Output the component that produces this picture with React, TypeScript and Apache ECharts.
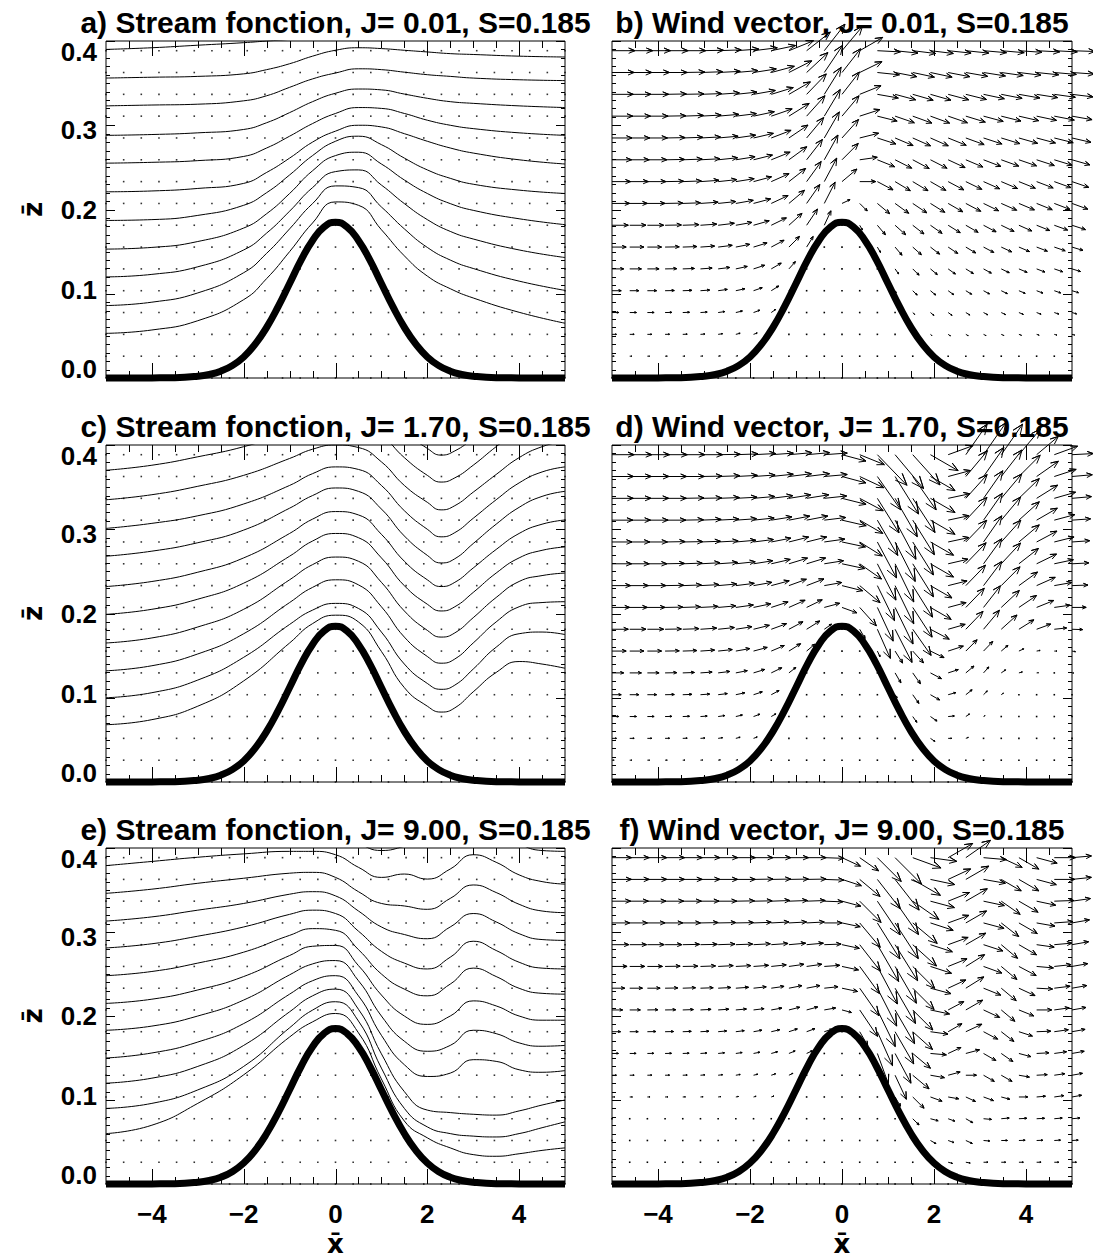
import React, { useEffect, useRef } from 'react';
import * as echarts from 'echarts';

const FONT = '"Liberation Sans", Arial, Helvetica, sans-serif';

// model grid (x columns, z rows)
const gridX = [-5, -4.615, -4.231, -3.846, -3.462, -3.077, -2.692, -2.308, -1.923, -1.538, -1.154, -0.769, -0.385, 0, 0.385, 0.769, 1.154, 1.538, 1.923, 2.308, 2.692, 3.077, 3.462, 3.846, 4.231, 4.615, 5];
const gridZ = [0, 0.0259, 0.0518, 0.0777, 0.1036, 0.1295, 0.1554, 0.1813, 0.2072, 0.2331, 0.259, 0.2849, 0.3108, 0.3367, 0.3626, 0.3885];

// terrain
const hillX = [-5, -4.5, -4, -3.5, -3, -2.75, -2.5, -2.25, -2, -1.75, -1.5, -1.25, -1, -0.75, -0.5, -0.25, 0, 0.25, 0.5, 0.75, 1, 1.25, 1.5, 1.75, 2, 2.25, 2.5, 2.75, 3, 3.5, 4, 4.5, 5];
const hillZ = [0, 0, 0.0001, 0.0004, 0.0021, 0.0042, 0.0081, 0.0147, 0.025, 0.0401, 0.0601, 0.0847, 0.1122, 0.1399, 0.1633, 0.1793, 0.185, 0.1793, 0.1633, 0.1399, 0.1122, 0.0847, 0.0601, 0.0401, 0.025, 0.0147, 0.0081, 0.0042, 0.0021, 0.0004, 0.0001, 0, 0];

// streamlines, panel a (J=0.01)
const streamAX = [-5, -4, -3, -2, -1.5, -1, -0.5, 0, 0.5, 1, 1.5, 2, 2.5, 3, 4, 5];
const streamA = [
  [0.053, 0.057, 0.068, 0.093, 0.118, 0.150, 0.184, 0.209, 0.205, 0.176, 0.145, 0.121, 0.106, 0.095, 0.078, 0.065],
  [0.086, 0.090, 0.101, 0.125, 0.148, 0.177, 0.207, 0.228, 0.226, 0.203, 0.177, 0.155, 0.140, 0.130, 0.115, 0.104],
  [0.120, 0.123, 0.132, 0.152, 0.172, 0.198, 0.226, 0.245, 0.247, 0.229, 0.207, 0.188, 0.174, 0.165, 0.152, 0.143],
  [0.153, 0.155, 0.162, 0.178, 0.195, 0.219, 0.246, 0.264, 0.268, 0.254, 0.235, 0.219, 0.207, 0.199, 0.189, 0.182],
  [0.187, 0.188, 0.193, 0.205, 0.220, 0.241, 0.264, 0.281, 0.287, 0.277, 0.261, 0.247, 0.237, 0.230, 0.223, 0.219],
  [0.221, 0.222, 0.225, 0.231, 0.244, 0.261, 0.280, 0.293, 0.300, 0.298, 0.290, 0.281, 0.273, 0.267, 0.259, 0.254],
  [0.255, 0.256, 0.258, 0.263, 0.273, 0.287, 0.302, 0.314, 0.321, 0.320, 0.314, 0.306, 0.300, 0.296, 0.291, 0.288],
  [0.288, 0.289, 0.291, 0.295, 0.303, 0.315, 0.328, 0.338, 0.343, 0.342, 0.337, 0.332, 0.328, 0.326, 0.323, 0.321],
  [0.323, 0.324, 0.325, 0.329, 0.335, 0.345, 0.355, 0.362, 0.367, 0.366, 0.363, 0.360, 0.358, 0.356, 0.354, 0.353],
  [0.356, 0.357, 0.358, 0.361, 0.366, 0.373, 0.382, 0.389, 0.392, 0.391, 0.389, 0.387, 0.385, 0.384, 0.382, 0.381],
  [0.390, 0.392, 0.395, 0.398, 0.400, 0.402, 0.406, 0.410, 0.413, 0.414, 0.414, 0.413, 0.412, 0.411, 0.410, 0.409],
];

// streamlines, panel c (J=1.70)
const streamCX = [-5, -4, -3, -2, -1, -0.5, 0, 0.5, 1, 1.5, 2, 2.3, 2.6, 3, 3.5, 4, 4.5, 5];
const streamC = [
  [0.405, 0.410, 0.418, 0.430, 0.448, 0.456, 0.460, 0.458, 0.443, 0.416, 0.396, 0.388, 0.393, 0.408, 0.430, 0.450, 0.460, 0.465],
  [0.370, 0.376, 0.386, 0.398, 0.415, 0.425, 0.430, 0.428, 0.412, 0.385, 0.364, 0.356, 0.361, 0.376, 0.398, 0.418, 0.430, 0.435],
  [0.335, 0.341, 0.351, 0.364, 0.384, 0.395, 0.400, 0.397, 0.380, 0.352, 0.332, 0.323, 0.328, 0.344, 0.365, 0.385, 0.398, 0.405],
  [0.301, 0.307, 0.316, 0.330, 0.352, 0.366, 0.374, 0.371, 0.352, 0.322, 0.300, 0.291, 0.296, 0.313, 0.335, 0.355, 0.368, 0.374],
  [0.268, 0.274, 0.284, 0.299, 0.325, 0.340, 0.349, 0.345, 0.324, 0.292, 0.269, 0.260, 0.265, 0.283, 0.306, 0.326, 0.339, 0.345],
  [0.232, 0.238, 0.249, 0.266, 0.295, 0.312, 0.321, 0.317, 0.294, 0.262, 0.240, 0.232, 0.237, 0.254, 0.276, 0.295, 0.306, 0.311],
  [0.199, 0.205, 0.217, 0.236, 0.268, 0.286, 0.295, 0.290, 0.266, 0.233, 0.211, 0.203, 0.208, 0.225, 0.248, 0.266, 0.275, 0.279],
  [0.165, 0.171, 0.184, 0.205, 0.240, 0.258, 0.267, 0.262, 0.237, 0.203, 0.180, 0.172, 0.177, 0.195, 0.219, 0.238, 0.245, 0.248],
  [0.132, 0.138, 0.152, 0.176, 0.213, 0.231, 0.240, 0.234, 0.208, 0.172, 0.149, 0.141, 0.146, 0.165, 0.190, 0.208, 0.213, 0.214],
  [0.100, 0.106, 0.121, 0.148, 0.187, 0.204, 0.212, 0.206, 0.178, 0.140, 0.117, 0.110, 0.115, 0.134, 0.160, 0.176, 0.178, 0.175],
  [0.068, 0.074, 0.090, 0.120, 0.165, 0.188, 0.198, 0.190, 0.155, 0.112, 0.090, 0.083, 0.088, 0.107, 0.130, 0.143, 0.140, 0.135],
];

// streamlines, panel e (J=9.00)
const streamEX = [-5, -4, -3, -2, -1, -0.5, 0, 0.5, 1, 1.5, 2, 2.5, 3, 3.5, 4, 4.5, 5];
const streamE = [
  [0.420, 0.421, 0.422, 0.422, 0.421, 0.420, 0.415, 0.405, 0.397, 0.402, 0.410, 0.420, 0.430, 0.420, 0.405, 0.397, 0.396],
  [0.379, 0.384, 0.389, 0.393, 0.396, 0.396, 0.392, 0.377, 0.365, 0.369, 0.363, 0.375, 0.392, 0.383, 0.368, 0.360, 0.357],
  [0.346, 0.351, 0.358, 0.364, 0.370, 0.371, 0.365, 0.348, 0.334, 0.331, 0.327, 0.340, 0.356, 0.347, 0.333, 0.325, 0.323],
  [0.313, 0.318, 0.326, 0.334, 0.345, 0.348, 0.343, 0.325, 0.306, 0.297, 0.292, 0.306, 0.322, 0.312, 0.298, 0.291, 0.290],
  [0.281, 0.286, 0.295, 0.306, 0.321, 0.326, 0.322, 0.301, 0.277, 0.263, 0.256, 0.270, 0.289, 0.278, 0.264, 0.257, 0.256],
  [0.248, 0.253, 0.263, 0.276, 0.296, 0.304, 0.302, 0.279, 0.250, 0.232, 0.224, 0.238, 0.257, 0.247, 0.233, 0.227, 0.226],
  [0.215, 0.220, 0.231, 0.247, 0.272, 0.283, 0.284, 0.260, 0.225, 0.200, 0.190, 0.200, 0.218, 0.212, 0.200, 0.195, 0.195],
  [0.183, 0.188, 0.200, 0.219, 0.249, 0.262, 0.266, 0.242, 0.200, 0.170, 0.158, 0.165, 0.183, 0.179, 0.168, 0.164, 0.165],
  [0.150, 0.156, 0.169, 0.191, 0.226, 0.242, 0.248, 0.224, 0.177, 0.142, 0.128, 0.132, 0.148, 0.146, 0.136, 0.133, 0.135],
  [0.120, 0.126, 0.140, 0.165, 0.205, 0.224, 0.232, 0.208, 0.155, 0.110, 0.088, 0.085, 0.083, 0.082, 0.087, 0.094, 0.100],
  [0.090, 0.096, 0.112, 0.140, 0.186, 0.207, 0.217, 0.194, 0.138, 0.090, 0.068, 0.060, 0.057, 0.056, 0.060, 0.067, 0.074],
  [0.060, 0.070, 0.096, 0.130, 0.175, 0.193, 0.203, 0.180, 0.125, 0.075, 0.055, 0.043, 0.035, 0.033, 0.036, 0.040, 0.043],
];

// wind vectors: rows from top (z=0.3885) down to z=0.0259; angle in degrees, length in grid cells
const windBAng = [
  [0, 0, 0, 0, 0, 1, 2, 4, 7, 12, 22, 38, 52, 50, 30, -3, -6, -7, -7, -6, -6, -5, -5, -4, -3, -3, -2],
  [0, 0, 0, 0, 1, 2, 3, 5, 9, 15, 27, 43, 56, 52, 26, -6, -11, -12, -12, -11, -10, -9, -8, -7, -6, -5, -4],
  [0, 0, 0, 1, 1, 2, 4, 6, 10, 17, 30, 46, 58, 52, 22, -10, -15, -16, -16, -15, -14, -12, -11, -10, -9, -8, -7],
  [0, 0, 0, 1, 2, 3, 5, 7, 12, 19, 32, 48, 59, 50, 18, -14, -19, -20, -20, -19, -17, -15, -14, -13, -12, -11, -10],
  [0, 0, 0, 1, 2, 3, 5, 8, 13, 21, 34, 50, 60, 48, 14, -18, -23, -24, -24, -22, -20, -18, -17, -16, -15, -14, -13],
  [0, 0, 0, 1, 2, 3, 6, 9, 14, 22, 36, 52, 61, 45, 8, -22, -27, -28, -27, -25, -23, -21, -20, -19, -18, -17, -16],
  [0, 0, 0, 1, 2, 4, 6, 9, 15, 24, 38, 54, 62, 40, 0, -28, -31, -31, -30, -28, -26, -24, -23, -22, -21, -20, -19],
  [0, 0, 0, 1, 2, 4, 6, 10, 15, 25, 40, 55, 63, 25, -45, -40, -36, -34, -32, -30, -28, -26, -24, -23, -22, -21, -20],
  [0, 0, 0, 1, 2, 4, 7, 10, 16, 26, 42, 56, 65, 0, -60, -50, -42, -38, -35, -32, -30, -28, -26, -24, -22, -20, -18],
  [0, 0, 0, 1, 2, 4, 7, 11, 17, 28, 45, 58, 0, 0, 0, -60, -50, -42, -38, -34, -31, -28, -25, -23, -21, -19, -17],
  [0, 0, 0, 1, 2, 4, 7, 12, 18, 30, 48, 0, 0, 0, 0, 0, -55, -45, -40, -36, -32, -29, -26, -23, -21, -19, -17],
  [0, 0, 0, 1, 2, 4, 8, 12, 19, 32, 50, 0, 0, 0, 0, 0, -55, -45, -40, -36, -32, -29, -26, -23, -21, -19, -17],
  [0, 0, 0, 1, 2, 4, 8, 13, 20, 35, 0, 0, 0, 0, 0, 0, 0, -45, -40, -36, -32, -29, -26, -23, -21, -19, -17],
  [0, 0, 0, 1, 2, 4, 8, 14, 20, 0, 0, 0, 0, 0, 0, 0, 0, 0, -40, -34, -30, -27, -24, -21, -19, -17, -15],
  [0, 0, 0, 1, 2, 4, 8, 12, 0, 0, 0, 0, 0, 0, 0, 0, 0, 0, 0, -30, -27, -24, -21, -19, -17, -15, -13],
];
const windBLen = [
  [1.3, 1.3, 1.3, 1.3, 1.3, 1.3, 1.3, 1.3, 1.35, 1.4, 1.5, 1.7, 1.9, 1.8, 1.5, 1.3, 1.3, 1.3, 1.3, 1.3, 1.3, 1.3, 1.3, 1.3, 1.3, 1.3, 1.3],
  [1.25, 1.25, 1.25, 1.25, 1.25, 1.25, 1.25, 1.25, 1.3, 1.35, 1.45, 1.65, 1.85, 1.7, 1.4, 1.25, 1.25, 1.25, 1.25, 1.25, 1.25, 1.25, 1.25, 1.25, 1.25, 1.25, 1.25],
  [1.2, 1.2, 1.2, 1.2, 1.2, 1.2, 1.2, 1.2, 1.25, 1.3, 1.4, 1.6, 1.8, 1.6, 1.3, 1.2, 1.2, 1.2, 1.2, 1.2, 1.2, 1.2, 1.2, 1.2, 1.2, 1.2, 1.2],
  [1.17, 1.17, 1.17, 1.17, 1.17, 1.17, 1.17, 1.17, 1.2, 1.25, 1.35, 1.55, 1.75, 1.5, 1.2, 1.15, 1.15, 1.15, 1.15, 1.15, 1.15, 1.15, 1.15, 1.15, 1.15, 1.15, 1.15],
  [1.13, 1.13, 1.13, 1.13, 1.13, 1.13, 1.13, 1.13, 1.15, 1.2, 1.3, 1.5, 1.7, 1.4, 1.1, 1.1, 1.1, 1.1, 1.1, 1.1, 1.1, 1.1, 1.1, 1.1, 1.1, 1.1, 1.1],
  [1.1, 1.1, 1.1, 1.1, 1.1, 1.1, 1.1, 1.1, 1.1, 1.15, 1.25, 1.45, 1.6, 1.3, 1.0, 1.05, 1.05, 1.05, 1.05, 1.05, 1.05, 1.05, 1.05, 1.05, 1.05, 1.05, 1.05],
  [1.05, 1.05, 1.05, 1.05, 1.05, 1.05, 1.05, 1.05, 1.05, 1.1, 1.2, 1.4, 1.5, 1.1, 0.9, 1.0, 1.0, 1.0, 1.0, 1.0, 1.0, 1.0, 1.0, 1.0, 1.0, 1.0, 1.0],
  [1.0, 1.0, 1.0, 1.0, 1.0, 1.0, 1.0, 1.0, 1.0, 1.05, 1.15, 1.3, 1.35, 0.5, 0.6, 0.9, 0.95, 0.95, 0.95, 0.95, 0.95, 0.95, 0.95, 0.95, 0.95, 0.95, 0.95],
  [0.92, 0.92, 0.92, 0.92, 0.92, 0.92, 0.92, 0.92, 0.92, 0.95, 1.0, 1.1, 0.9, 0, 0.3, 0.7, 0.8, 0.8, 0.8, 0.8, 0.8, 0.8, 0.8, 0.8, 0.8, 0.8, 0.8],
  [0.8, 0.8, 0.8, 0.8, 0.8, 0.8, 0.8, 0.8, 0.8, 0.82, 0.85, 0.7, 0, 0, 0, 0.35, 0.6, 0.65, 0.65, 0.65, 0.65, 0.65, 0.65, 0.65, 0.65, 0.65, 0.65],
  [0.66, 0.66, 0.66, 0.66, 0.66, 0.66, 0.66, 0.66, 0.66, 0.65, 0.55, 0, 0, 0, 0, 0, 0.35, 0.5, 0.5, 0.5, 0.5, 0.5, 0.5, 0.5, 0.5, 0.5, 0.5],
  [0.52, 0.52, 0.52, 0.52, 0.52, 0.52, 0.52, 0.52, 0.52, 0.5, 0.2, 0, 0, 0, 0, 0, 0.12, 0.35, 0.38, 0.38, 0.38, 0.38, 0.38, 0.38, 0.38, 0.38, 0.38],
  [0.38, 0.38, 0.38, 0.38, 0.38, 0.38, 0.38, 0.38, 0.38, 0.3, 0, 0, 0, 0, 0, 0, 0, 0.15, 0.25, 0.27, 0.27, 0.27, 0.27, 0.27, 0.27, 0.27, 0.27],
  [0.25, 0.25, 0.25, 0.25, 0.25, 0.25, 0.25, 0.25, 0.22, 0, 0, 0, 0, 0, 0, 0, 0, 0, 0.1, 0.15, 0.15, 0.15, 0.15, 0.15, 0.15, 0.15, 0.15],
  [0.12, 0.12, 0.12, 0.12, 0.12, 0.12, 0.12, 0.1, 0, 0, 0, 0, 0, 0, 0, 0, 0, 0, 0, 0.06, 0.06, 0.06, 0.06, 0.06, 0.06, 0.06, 0.06],
];

const windDAng = [
  [0, 0, 0, 0, 0, 0, 1, 2, 3, 4, 5, 5, 4, -15, -22, -46, -50, -48, -30, 20, 55, 55, 55, 50, 40, 20, 3],
  [0, 0, 0, 0, 0, 1, 2, 3, 4, 6, 7, 7, 5, -15, -25, -55, -58, -55, -30, 15, 50, 55, 52, 45, 35, 18, 5],
  [0, 0, 0, 0, 1, 1, 2, 3, 5, 7, 9, 9, 6, -14, -28, -58, -60, -57, -30, 12, 48, 55, 50, 44, 32, 16, 5],
  [0, 0, 0, 0, 1, 2, 3, 4, 6, 9, 11, 11, 7, -13, -30, -60, -62, -58, -30, 12, 47, 55, 50, 42, 30, 15, 4],
  [0, 0, 0, 1, 1, 2, 3, 5, 7, 11, 14, 14, 8, -12, -32, -62, -63, -58, -30, 12, 46, 55, 48, 40, 28, 14, 4],
  [0, 0, 0, 1, 2, 3, 4, 6, 9, 13, 17, 17, 9, -12, -35, -63, -64, -58, -30, 13, 46, 54, 47, 38, 26, 12, 3],
  [0, 0, 0, 1, 2, 3, 5, 7, 10, 15, 20, 21, 10, -14, -40, -64, -64, -58, -30, 14, 46, 53, 45, 36, 24, 10, 2],
  [0, 0, 0, 1, 2, 3, 5, 8, 12, 18, 24, 26, 15, -20, -48, -65, -64, -57, -30, 15, 46, 52, 43, 34, 22, 8, 0],
  [0, 0, 0, 1, 2, 4, 6, 9, 14, 20, 28, 32, 35, 0, -60, -66, -63, -55, -28, 16, 46, 50, 42, 32, 20, 6, -2],
  [0, 0, 0, 1, 2, 4, 6, 10, 15, 23, 32, 40, 0, 0, 0, -65, -58, -48, -26, 18, 45, 46, 40, 25, 10, 0, -10],
  [0, 0, 0, 1, 2, 4, 7, 11, 17, 26, 38, 0, 0, 0, 0, 0, -60, -55, -28, 18, 40, 48, 35, 15, 5, 0, -5],
  [0, 0, 0, 1, 2, 4, 7, 12, 18, 28, 40, 0, 0, 0, 0, 0, -55, -55, -30, 15, 38, 45, 35, 10, 0, 0, 0],
  [0, 0, 0, 1, 2, 4, 8, 13, 20, 30, 0, 0, 0, 0, 0, 0, 0, -55, -35, 5, 35, 30, 10, 0, 0, 0, 0],
  [0, 0, 0, 1, 2, 4, 8, 14, 20, 0, 0, 0, 0, 0, 0, 0, 0, 0, -35, 0, 20, 10, 0, 0, 0, 0, 0],
  [0, 0, 0, 1, 2, 4, 8, 12, 0, 0, 0, 0, 0, 0, 0, 0, 0, 0, 0, 0, 10, 0, 0, 0, 0, 0, 0],
];
const windDLen = [
  [1.25, 1.25, 1.25, 1.25, 1.25, 1.25, 1.25, 1.25, 1.25, 1.25, 1.3, 1.3, 1.3, 1.4, 1.5, 2.4, 2.5, 2.3, 1.8, 1.5, 2.1, 2.2, 2.1, 1.9, 1.6, 1.4, 1.2],
  [1.22, 1.22, 1.22, 1.22, 1.22, 1.22, 1.22, 1.22, 1.22, 1.25, 1.28, 1.3, 1.3, 1.4, 1.5, 2.3, 2.5, 2.3, 1.6, 1.3, 1.9, 2.0, 1.9, 1.7, 1.5, 1.3, 1.15],
  [1.2, 1.2, 1.2, 1.2, 1.2, 1.2, 1.2, 1.2, 1.2, 1.22, 1.25, 1.27, 1.27, 1.4, 1.5, 2.3, 2.5, 2.3, 1.6, 1.25, 1.8, 1.9, 1.8, 1.6, 1.4, 1.25, 1.1],
  [1.17, 1.17, 1.17, 1.17, 1.17, 1.17, 1.17, 1.17, 1.17, 1.18, 1.2, 1.22, 1.22, 1.4, 1.5, 2.3, 2.5, 2.3, 1.6, 1.2, 1.75, 1.85, 1.7, 1.55, 1.35, 1.2, 1.05],
  [1.13, 1.13, 1.13, 1.13, 1.13, 1.13, 1.13, 1.13, 1.13, 1.13, 1.15, 1.17, 1.17, 1.35, 1.5, 2.3, 2.5, 2.2, 1.5, 1.2, 1.7, 1.8, 1.65, 1.5, 1.3, 1.15, 1.0],
  [1.1, 1.1, 1.1, 1.1, 1.1, 1.1, 1.1, 1.1, 1.1, 1.1, 1.1, 1.12, 1.1, 1.3, 1.5, 2.3, 2.4, 2.2, 1.5, 1.15, 1.65, 1.75, 1.6, 1.4, 1.25, 1.1, 0.95],
  [1.05, 1.05, 1.05, 1.05, 1.05, 1.05, 1.05, 1.05, 1.05, 1.05, 1.05, 1.05, 1.0, 1.2, 1.5, 2.2, 2.4, 2.1, 1.4, 1.1, 1.6, 1.7, 1.5, 1.3, 1.15, 1.0, 0.9],
  [1.0, 1.0, 1.0, 1.0, 1.0, 1.0, 1.0, 1.0, 1.0, 1.0, 1.0, 0.98, 0.9, 0.9, 1.4, 2.1, 2.3, 2.0, 1.35, 1.05, 1.5, 1.55, 1.4, 1.2, 1.05, 0.9, 0.8],
  [0.92, 0.92, 0.92, 0.92, 0.92, 0.92, 0.92, 0.92, 0.92, 0.92, 0.9, 0.88, 0.5, 0, 0.6, 1.8, 2.1, 1.8, 1.2, 1.0, 1.4, 1.4, 1.2, 1.0, 0.85, 0.7, 0.6],
  [0.8, 0.8, 0.8, 0.8, 0.8, 0.8, 0.8, 0.8, 0.8, 0.8, 0.78, 0.6, 0, 0, 0, 0.35, 0.8, 0.9, 0.85, 0.9, 0.9, 0.75, 0.5, 0.3, 0.2, 0.15, 0.2],
  [0.66, 0.66, 0.66, 0.66, 0.66, 0.66, 0.66, 0.66, 0.66, 0.66, 0.5, 0, 0, 0, 0, 0, 0.65, 0.75, 0.7, 0.6, 0.6, 0.45, 0.3, 0.2, 0.1, 0.08, 0.1],
  [0.52, 0.52, 0.52, 0.52, 0.52, 0.52, 0.52, 0.52, 0.52, 0.5, 0.2, 0, 0, 0, 0, 0, 0.2, 0.6, 0.6, 0.45, 0.45, 0.3, 0.15, 0.06, 0.04, 0.04, 0.04],
  [0.38, 0.38, 0.38, 0.38, 0.38, 0.38, 0.38, 0.38, 0.38, 0.3, 0, 0, 0, 0, 0, 0, 0, 0.4, 0.45, 0.35, 0.25, 0.1, 0.05, 0, 0, 0, 0],
  [0.25, 0.25, 0.25, 0.25, 0.25, 0.25, 0.25, 0.25, 0.22, 0, 0, 0, 0, 0, 0, 0, 0, 0, 0.3, 0.2, 0.15, 0.05, 0, 0, 0, 0, 0],
  [0.12, 0.12, 0.12, 0.12, 0.12, 0.12, 0.12, 0.1, 0, 0, 0, 0, 0, 0, 0, 0, 0, 0, 0, 0.1, 0.05, 0, 0, 0, 0, 0, 0],
];

const windFAng = [
  [0, 0, 0, 0, 0, 0, 0, 0, 0, 0, 0, 0, -2, -25, -35, -45, -45, -20, -8, 30, 35, -5, -25, -30, -15, 0, 5],
  [0, 0, 0, 0, 0, 0, 0, 0, 1, 1, 1, 1, -2, -18, -40, -52, -52, -30, -12, 25, 30, -10, -30, -30, -15, 0, 6],
  [0, 0, 0, 0, 0, 0, 0, 1, 1, 2, 2, 2, -2, -15, -45, -56, -55, -35, -15, 22, 30, -12, -35, -30, -12, 2, 8],
  [0, 0, 0, 0, 0, 1, 1, 1, 2, 3, 3, 3, 0, -12, -50, -58, -57, -40, -18, 20, 30, -15, -38, -30, -10, 4, 10],
  [0, 0, 0, 0, 1, 1, 2, 2, 3, 4, 5, 5, 2, -12, -52, -60, -58, -42, -18, 20, 30, -18, -40, -30, -8, 5, 10],
  [0, 0, 0, 1, 1, 2, 3, 3, 4, 6, 8, 8, 4, -12, -54, -62, -60, -45, -18, 22, 32, -20, -40, -28, -5, 6, 10],
  [0, 0, 0, 1, 2, 2, 3, 4, 6, 8, 11, 11, 6, -12, -55, -63, -60, -45, -15, 25, 32, -22, -40, -25, -3, 7, 10],
  [0, 0, 1, 1, 2, 3, 4, 5, 7, 10, 14, 15, 10, -15, -56, -64, -60, -45, -12, 28, 30, -25, -40, -22, 0, 8, 10],
  [0, 0, 1, 1, 2, 3, 5, 7, 10, 13, 18, 20, 18, 0, -60, -66, -60, -42, -8, 30, 25, -28, -38, -18, 2, 8, 10],
  [0, 0, 1, 1, 2, 4, 6, 8, 11, 15, 22, 25, 0, 0, 0, -70, -62, -40, -5, 25, 15, -30, -35, -15, 3, 8, 10],
  [0, 0, 1, 1, 2, 4, 6, 9, 13, 18, 25, 0, 0, 0, 0, 0, -65, -40, -10, 15, 0, -30, -30, -10, 3, 8, 10],
  [0, 0, 1, 1, 2, 4, 7, 10, 15, 20, 28, 0, 0, 0, 0, 0, -60, -45, -20, -10, -25, -20, -15, 0, 5, 8, 10],
  [0, 0, 1, 1, 2, 4, 7, 11, 16, 22, 0, 0, 0, 0, 0, 0, 0, -45, -15, -20, -30, -5, 5, 3, 3, 5, 5],
  [0, 0, 1, 1, 2, 4, 7, 12, 16, 0, 0, 0, 0, 0, 0, 0, 0, 0, -30, -20, -25, -5, 0, 2, 2, 3, 3],
  [0, 0, 1, 1, 2, 4, 7, 10, 0, 0, 0, 0, 0, 0, 0, 0, 0, 0, 0, -15, -10, 0, 0, 0, 0, 0, 0],
];
const windFLen = [
  [1.1, 1.1, 1.1, 1.1, 1.1, 1.1, 1.1, 1.1, 1.1, 1.1, 1.1, 1.1, 1.1, 1.15, 1.3, 1.9, 2.1, 1.7, 1.5, 1.6, 1.7, 1.3, 1.3, 1.3, 1.2, 1.2, 1.1],
  [1.1, 1.1, 1.1, 1.1, 1.1, 1.1, 1.1, 1.1, 1.1, 1.1, 1.1, 1.1, 1.1, 1.15, 1.5, 2.1, 2.2, 1.8, 1.4, 1.4, 1.5, 1.25, 1.3, 1.3, 1.15, 1.15, 1.1],
  [1.05, 1.05, 1.05, 1.05, 1.05, 1.05, 1.05, 1.05, 1.05, 1.05, 1.05, 1.05, 1.05, 1.1, 1.7, 2.3, 2.3, 1.8, 1.4, 1.3, 1.4, 1.2, 1.3, 1.25, 1.1, 1.1, 1.05],
  [1.0, 1.0, 1.0, 1.0, 1.0, 1.0, 1.0, 1.0, 1.0, 1.0, 1.0, 1.0, 1.0, 1.05, 1.8, 2.4, 2.4, 1.8, 1.35, 1.25, 1.35, 1.2, 1.25, 1.2, 1.05, 1.05, 1.0],
  [0.95, 0.95, 0.95, 0.95, 0.95, 0.95, 0.95, 0.95, 0.95, 0.95, 0.95, 0.95, 0.95, 1.0, 1.9, 2.4, 2.4, 1.8, 1.3, 1.2, 1.3, 1.15, 1.2, 1.15, 1.0, 1.0, 0.95],
  [0.85, 0.85, 0.85, 0.85, 0.85, 0.85, 0.85, 0.85, 0.85, 0.85, 0.86, 0.87, 0.88, 0.95, 1.9, 2.4, 2.4, 1.75, 1.25, 1.15, 1.25, 1.1, 1.15, 1.1, 0.95, 0.95, 0.9],
  [0.72, 0.72, 0.72, 0.72, 0.72, 0.72, 0.72, 0.72, 0.72, 0.73, 0.75, 0.77, 0.78, 0.9, 1.9, 2.4, 2.3, 1.7, 1.2, 1.1, 1.2, 1.05, 1.1, 1.0, 0.9, 0.9, 0.85],
  [0.6, 0.6, 0.6, 0.6, 0.6, 0.6, 0.6, 0.6, 0.6, 0.61, 0.63, 0.65, 0.65, 0.55, 1.8, 2.3, 2.2, 1.6, 1.1, 1.0, 1.1, 1.0, 1.0, 0.9, 0.85, 0.85, 0.8],
  [0.48, 0.48, 0.48, 0.48, 0.48, 0.48, 0.48, 0.48, 0.48, 0.49, 0.5, 0.5, 0.45, 0, 0.9, 2.1, 2.1, 1.5, 1.0, 0.9, 1.0, 0.9, 0.9, 0.8, 0.8, 0.8, 0.75],
  [0.36, 0.36, 0.36, 0.36, 0.36, 0.36, 0.36, 0.36, 0.36, 0.37, 0.38, 0.35, 0, 0, 0, 1.8, 1.9, 1.3, 0.9, 0.8, 0.8, 0.8, 0.8, 0.7, 0.7, 0.7, 0.7],
  [0.25, 0.25, 0.25, 0.25, 0.25, 0.25, 0.25, 0.25, 0.25, 0.26, 0.25, 0, 0, 0, 0, 0, 1.5, 1.2, 0.8, 0.7, 0.6, 0.7, 0.7, 0.6, 0.6, 0.6, 0.6],
  [0.15, 0.15, 0.15, 0.15, 0.15, 0.15, 0.15, 0.15, 0.15, 0.16, 0.12, 0, 0, 0, 0, 0, 0.6, 0.9, 0.7, 0.6, 0.6, 0.6, 0.5, 0.5, 0.5, 0.55, 0.55],
  [0.08, 0.08, 0.08, 0.08, 0.08, 0.08, 0.08, 0.08, 0.08, 0.08, 0, 0, 0, 0, 0, 0, 0, 0.5, 0.45, 0.4, 0.45, 0.45, 0.45, 0.45, 0.45, 0.45, 0.45],
  [0.04, 0.04, 0.04, 0.04, 0.04, 0.04, 0.04, 0.04, 0.04, 0, 0, 0, 0, 0, 0, 0, 0, 0, 0.35, 0.35, 0.4, 0.35, 0.35, 0.35, 0.35, 0.35, 0.35],
  [0.02, 0.02, 0.02, 0.02, 0.02, 0.02, 0.02, 0.02, 0, 0, 0, 0, 0, 0, 0, 0, 0, 0, 0, 0.25, 0.25, 0.25, 0.25, 0.25, 0.25, 0.25, 0.25],
];

// axes
const xMajorTicks = [-4, -2, 0, 2, 4];
const xMinorTicks = [-4.5, -3.5, -3, -2.5, -1.5, -1, -0.5, 0.5, 1, 1.5, 2.5, 3, 3.5, 4.5];
const zMajorTicks = [0, 0.1, 0.2, 0.3, 0.4];
const zMinorTicks = [0.01, 0.02, 0.03, 0.04, 0.05, 0.06, 0.07, 0.08, 0.09, 0.11, 0.12, 0.13, 0.14, 0.15, 0.16, 0.17, 0.18, 0.19, 0.21, 0.22, 0.23, 0.24, 0.25, 0.26, 0.27, 0.28, 0.29, 0.31, 0.32, 0.33, 0.34, 0.35, 0.36, 0.37, 0.38, 0.39];
const xTickLabels = [-4, -2, 0, 2, 4];
const zTickLabels = ['0.0', '0.1', '0.2', '0.3', '0.4'];

const panelTitles = [
  'a) Stream fonction, J= 0.01, S=0.185',
  'b) Wind vector, J= 0.01, S=0.185',
  'c) Stream fonction, J= 1.70, S=0.185',
  'd) Wind vector, J= 1.70, S=0.185',
  'e) Stream fonction, J= 9.00, S=0.185',
  'f) Wind vector, J= 9.00, S=0.185',
];

// layout (pixels)
const COL_LEFT = [106, 612];
const COL_WIDTH = [459, 460];
const ROW_TOP = [41, 445, 848];
const ROW_HEIGHT = [337, 337, 336];
const TITLE_Y = [22, 426, 829];

const CELL_W = gridX[1] - gridX[0];

function renderTicks(params: any, api: any) {
  const cs = params.coordSys;
  const kind = api.value(2);
  const st = { stroke: '#000', lineWidth: 1 };
  if (kind < 2) {
    const px = Math.round(api.coord([api.value(0), 0])[0]) + 0.5;
    const len = kind === 0 ? 15 : 7;
    const b = cs.y + cs.height;
    return {
      type: 'group',
      children: [
        { type: 'line', shape: { x1: px, y1: b, x2: px, y2: b - len }, style: st },
        { type: 'line', shape: { x1: px, y1: cs.y, x2: px, y2: cs.y + len }, style: st },
      ],
    };
  }
  const py = Math.round(api.coord([-5, api.value(1)])[1]) + 0.5;
  const len = kind === 2 ? 9 : 4;
  const r = cs.x + cs.width;
  return {
    type: 'group',
    children: [
      { type: 'line', shape: { x1: cs.x, y1: py, x2: cs.x + len, y2: py }, style: st },
      { type: 'line', shape: { x1: r, y1: py, x2: r - len, y2: py }, style: st },
    ],
  };
}

function renderArrow(params: any, api: any) {
  const p = api.coord([api.value(0), api.value(1)]);
  const cell = api.size([CELL_W, 0])[0];
  const L = api.value(3) * cell;
  if (L < 1.6) {
    return { type: 'rect', shape: { x: p[0] - 0.8, y: p[1] - 0.8, width: 1.6, height: 1.6 }, style: { fill: '#000' } };
  }
  const a = (api.value(2) * Math.PI) / 180;
  const tx = p[0] + L * Math.cos(a);
  const ty = p[1] - L * Math.sin(a);
  const h = 0.3 * L;
  const th = (22.5 * Math.PI) / 180;
  const b1 = a + Math.PI - th;
  const b2 = a + Math.PI + th;
  const h1 = [tx + h * Math.cos(b1), ty - h * Math.sin(b1)];
  const h2 = [tx + h * Math.cos(b2), ty - h * Math.sin(b2)];
  return {
    type: 'polyline',
    shape: { points: [p, [tx, ty], h1, [tx, ty], h2] },
    style: { stroke: '#000', lineWidth: 1, fill: 'none' },
  };
}

function arrowData(ang: number[][], len: number[][]) {
  const out: number[][] = [];
  for (let r = 0; r < ang.length; r++) {
    const k = gridZ.length - 1 - r;
    for (let j = 0; j < gridX.length; j++) out.push([gridX[j], gridZ[k], ang[r][j], len[r][j]]);
  }
  for (let j = 0; j < gridX.length; j++) out.push([gridX[j], gridZ[0], 0, 0]);
  return out;
}

function buildOption() {
  const grids: any[] = [];
  const xAxes: any[] = [];
  const yAxes: any[] = [];
  const series: any[] = [];
  const graphic: any[] = [];
  const labelStyle = { fontFamily: FONT, fontWeight: 'bold' as const, fontSize: 26, color: '#000' };
  // vertical nudges of the z labels (drawn slightly inside the frame, as in the reference)
  const zRich: any = {
    l0: { ...labelStyle, padding: [0, 0, 18, 0] },
    l1: { ...labelStyle, padding: [0, 0, 8, 0] },
    l2: { ...labelStyle, padding: [0, 0, 0, 0] },
    l3: { ...labelStyle, padding: [10, 0, 0, 0] },
    l4: { ...labelStyle, padding: [22, 0, 0, 0] },
  };

  const tickData: number[][] = [];
  xMajorTicks.forEach((v) => tickData.push([v, 0, 0]));
  xMinorTicks.forEach((v) => tickData.push([v, 0, 1]));
  zMajorTicks.forEach((v) => tickData.push([-5, v, 2]));
  zMinorTicks.forEach((v) => tickData.push([-5, v, 3]));

  const dots: number[][] = [];
  gridZ.forEach((z) => gridX.forEach((x) => dots.push([x, z])));

  const hillData = hillX.map((x, i) => [x, hillZ[i]]);
  const streams = [
    { xs: streamAX, lines: streamA },
    { xs: streamCX, lines: streamC },
    { xs: streamEX, lines: streamE },
  ];
  const winds = [
    { ang: windBAng, len: windBLen },
    { ang: windDAng, len: windDLen },
    { ang: windFAng, len: windFLen },
  ];

  for (let p = 0; p < 6; p++) {
    const r = Math.floor(p / 2);
    const c = p % 2;
    grids.push({
      left: COL_LEFT[c], top: ROW_TOP[r], width: COL_WIDTH[c], height: ROW_HEIGHT[r],
      show: true, borderColor: '#000', borderWidth: 1, backgroundColor: 'transparent', containLabel: false,
    });
    xAxes.push({
      gridIndex: p, type: 'value', min: -5, max: 5, interval: 1,
      axisLine: { show: false }, axisTick: { show: false }, splitLine: { show: false },
      axisLabel: {
        show: r === 2, margin: 17, ...labelStyle,
        formatter: (v: number) => {
          const iv = Math.round(v);
          if (!xTickLabels.includes(iv)) return '';
          return iv < 0 ? '\u2212' + Math.abs(iv) : String(iv);
        },
      },
    });
    yAxes.push({
      gridIndex: p, type: 'value', min: 0, max: 0.4, interval: 0.1,
      axisLine: { show: false }, axisTick: { show: false }, splitLine: { show: false },
      axisLabel: {
        show: c === 0, margin: 9, ...labelStyle, rich: zRich,
        formatter: (v: number) => {
          const i = Math.round(v * 10);
          return `{l${i}|${zTickLabels[i]}}`;
        },
      },
    });

    series.push({
      type: 'custom', xAxisIndex: p, yAxisIndex: p, data: tickData, renderItem: renderTicks,
      clip: false, silent: true, z: 5,
    });

    if (c === 0) {
      const s = streams[r];
      s.lines.forEach((line) => {
        series.push({
          type: 'line', xAxisIndex: p, yAxisIndex: p,
          data: s.xs.map((x, i) => [x, line[i]]),
          smooth: 0.5, symbol: 'none', showSymbol: false,
          lineStyle: { color: '#000', width: 1 }, clip: true, silent: true, z: 2,
        });
      });
      series.push({
        type: 'scatter', xAxisIndex: p, yAxisIndex: p, data: dots, symbol: 'rect', symbolSize: 1.6,
        itemStyle: { color: '#000' }, silent: true, z: 1,
      });
    } else {
      const w = winds[r];
      series.push({
        type: 'custom', xAxisIndex: p, yAxisIndex: p, data: arrowData(w.ang, w.len), renderItem: renderArrow,
        clip: false, silent: true, z: 2,
      });
    }
    series.push({
      type: 'line', xAxisIndex: p, yAxisIndex: p, data: hillData, smooth: 0.5,
      symbol: 'none', showSymbol: false, lineStyle: { color: '#000', width: 7, join: 'round' }, clip: false, silent: true, z: 4,
    });

    graphic.push({
      type: 'text', x: COL_LEFT[c] + COL_WIDTH[c] / 2, y: TITLE_Y[r],
      style: {
        text: panelTitles[p], font: `bold 30px ${FONT}`, fill: '#000',
        textAlign: 'center', textVerticalAlign: 'middle', align: 'center', verticalAlign: 'middle',
      },
    });
    if (c === 0) {
      graphic.push({
        type: 'text', x: 33, y: ROW_TOP[r] + ROW_HEIGHT[r] / 2, rotation: Math.PI / 2,
        style: {
          text: 'z\u0304', font: 'bold 26px "DejaVu Sans", sans-serif', fill: '#000',
          textAlign: 'center', textVerticalAlign: 'middle', align: 'center', verticalAlign: 'middle',
        },
      });
    }
    if (r === 2) {
      graphic.push({
        type: 'text', x: COL_LEFT[c] + COL_WIDTH[c] / 2, y: 1244,
        style: {
          text: 'x\u0304', font: 'bold 26px "DejaVu Sans", sans-serif', fill: '#000',
          textAlign: 'center', textVerticalAlign: 'middle', align: 'center', verticalAlign: 'middle',
        },
      });
    }
  }

  return {
    animation: false,
    backgroundColor: '#fff',
    textStyle: { fontFamily: FONT },
    grid: grids,
    xAxis: xAxes,
    yAxis: yAxes,
    series,
    graphic,
  };
}

export default function App() {
  const ref = useRef<HTMLDivElement>(null);
  useEffect(() => {
    if (!ref.current) return;
    const chart = echarts.init(ref.current, null, { renderer: 'svg' });
    chart.setOption(buildOption() as any);
    return () => chart.dispose();
  }, []);
  return (
    <div
      ref={ref}
      style={{ position: 'absolute', left: 0, top: 0, width: 1093, height: 1258, background: '#fff' }}
    />
  );
}
